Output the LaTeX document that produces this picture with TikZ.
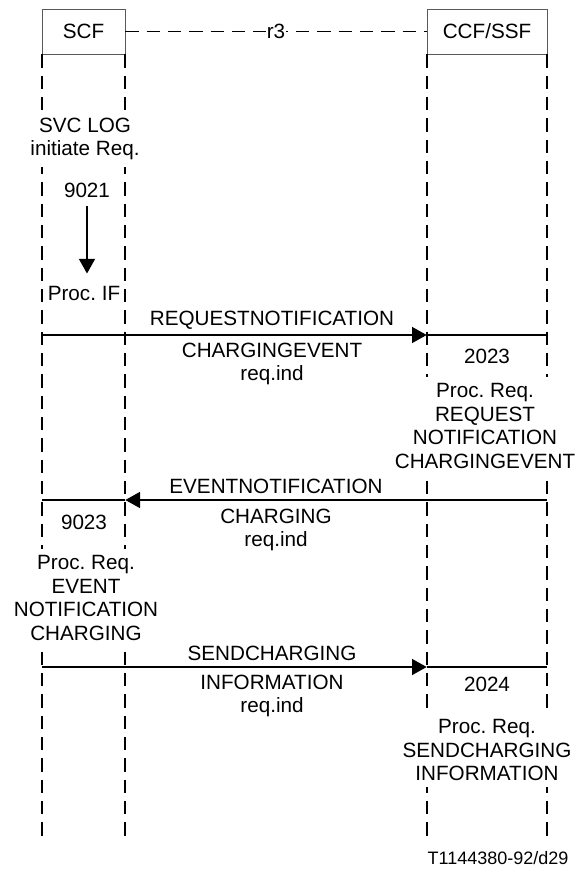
\documentclass[tikz,border=0pt]{standalone}
\usepackage{fontspec}
\setmainfont{Liberation Sans}
\usetikzlibrary{arrows.meta,positioning}
\frenchspacing

\begin{document}
\begin{tikzpicture}[x=0.75pt,y=-0.75pt,font=\fontsize{15.5}{17.6}\selectfont,
  ent/.style={draw=black!65,line width=0.5pt,minimum height=33.75pt,inner sep=0pt},
  life/.style={line width=1.3pt,dash pattern=on 10pt off 6pt},
  link/.style={line width=1.1pt,dash pattern=on 10pt off 6pt},
  msg/.style={line width=1.1pt,-{Triangle[length=11pt,width=12pt]}},
  seg/.style={line width=1.1pt},
  lbl/.style={align=center,inner sep=1pt},
  blk/.style={align=center,fill=white,inner sep=3pt}]
  \useasboundingbox (0,0) rectangle (578,870);
  % the two entities and the r3 relation
  \node[ent,minimum width=62.25pt] (scf) at (83.5,31.5) {SCF};
  \node[ent,minimum width=90pt] (ccf) at (487,31.5) {CCF/SSF};
  \draw[link] (scf) -- node[fill=white,inner sep=0.5pt] (r3) {r3} (ccf);
  % lifelines
  \coordinate (bot) at (0,840);
  \draw[life] (scf.south west) -- (scf.south west |- bot);
  \draw[life] (scf.south east) -- (scf.south east |- bot);
  \draw[life] (ccf.south west) -- (ccf.south west |- bot);
  \draw[life] (ccf.south east) -- (ccf.south east |- bot);
  % start of the service logic at SCF
  \node[blk,inner sep=5pt] (svc) at (85,139) {SVC LOG\\initiate Req.};
  \node[lbl,inner sep=6pt] (n9021) at (87,190) {9021};
  \node[lbl,inner sep=6pt] (procif) at (84,293) {Proc. IF};
  \draw[msg,shorten >=3pt] (n9021) -- (n9021 |- procif.north);
  % message rows
  \coordinate (m1) at (0,335);
  \coordinate (m2) at (0,500);
  \coordinate (m3) at (0,667);
  % REQUESTNOTIFICATIONCHARGINGEVENT
  \draw[msg] (scf.south west |- m1) -- (ccf.south west |- m1);
  \draw[seg] (ccf.south west |- m1) -- (ccf.south east |- m1);
  \node[lbl] (req1) at (272,320) {REQUESTNOTIFICATION};
  \node[lbl] (req1b) at (272,364) {CHARGINGEVENT\\req.ind};
  \node[lbl] (n2023) at (487,356) {2023};
  \node[blk,inner sep=5pt] (proc1) at (485,426) {Proc. Req.\\REQUEST\\NOTIFICATION\\CHARGINGEVENT};
  % EVENTNOTIFICATIONCHARGING
  \draw[msg] (ccf.south east |- m2) -- (scf.south east |- m2);
  \draw[seg] (scf.south east |- m2) -- (scf.south west |- m2);
  \node[lbl] (req2) at (276,486) {EVENTNOTIFICATION};
  \node[lbl] (req2b) at (276,530) {CHARGING\\req.ind};
  \node[lbl] (n9023) at (84,522) {9023};
  \node[blk,inner sep=5pt] (proc2) at (86,598) {Proc. Req.\\EVENT\\NOTIFICATION\\CHARGING};
  % SENDCHARGINGINFORMATION
  \draw[msg] (scf.south west |- m3) -- (ccf.south west |- m3);
  \draw[seg] (ccf.south west |- m3) -- (ccf.south east |- m3);
  \node[lbl] (req3) at (272,653) {SENDCHARGING};
  \node[lbl] (req3b) at (272,696) {INFORMATION\\req.ind};
  \node[lbl] (n2024) at (487,684) {2024};
  \node[blk,inner sep=5pt] (proc3) at (487,750) {Proc. Req.\\SENDCHARGING\\INFORMATION};
  % figure reference
  \node[lbl,font=\fontsize{13.5}{15}\selectfont] (ref) at (498,858) {T1144380-92/d29};
\end{tikzpicture}
\end{document}
